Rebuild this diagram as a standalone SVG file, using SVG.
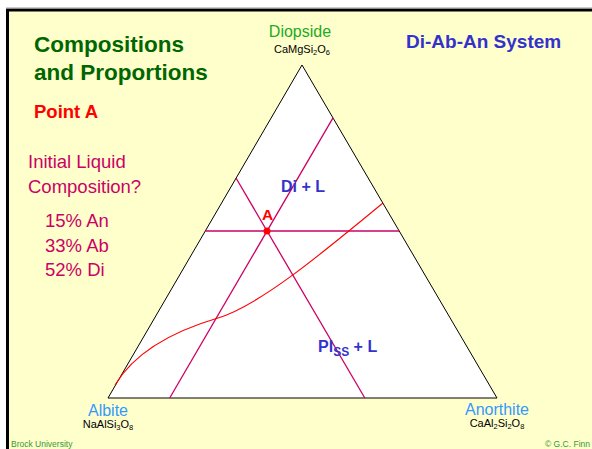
<svg xmlns="http://www.w3.org/2000/svg" width="592" height="449" viewBox="0 0 592 449">
<style>
.sans{font-family:"Liberation Sans",Arial,sans-serif}
.b{font-weight:bold}
.title{font-size:22.5px;fill:#006600;font-weight:bold}
.q{font-size:18.5px;fill:#CC0066}
.vx{font-size:16px}
.f{font-size:11px;fill:#000}
.reg{font-size:16px;fill:#3333CC;font-weight:bold}
.pink{stroke:#CC0066;stroke-width:1.3;fill:none}
.foot{font-size:8.5px;fill:#339933}
</style>
<rect x="0" y="0" width="592" height="449" fill="#FFFFFF"/>
<rect x="7.5" y="10" width="600" height="460" fill="#FFFFCC" stroke="#000" stroke-width="3"/>
<line x1="6" y1="8" x2="592" y2="8" stroke="#999" stroke-width="1"/>

<g class="sans">
<text class="title" x="34" y="52">Compositions</text>
<text class="title" x="34" y="80">and Proportions</text>
<text x="34" y="118" font-size="18.5px" fill="#FF0000" class="b">Point A</text>
<text class="b" x="406" y="48" font-size="19px" fill="#3333CC">Di-Ab-An System</text>
<text class="q" x="28" y="168">Initial Liquid</text>
<text class="q" x="28" y="193">Composition?</text>
<text class="q" x="45" y="227">15% An</text>
<text class="q" x="45" y="252">33% Ab</text>
<text class="q" x="45" y="276">52% Di</text>
<text class="foot" x="11" y="447">Brock University</text>
<text class="foot" x="545" y="447">© G.C. Finn</text>
</g>

<g id="triangle">
<polygon points="302,65 108,398 497,398" fill="#FFFFFF" stroke="#000" stroke-width="1"/>
</g>

<g id="connectors">
<line class="pink" x1="205.3" y1="231" x2="399.2" y2="231" stroke-width="2"/>
<line class="pink" x1="236" y1="178" x2="364.8" y2="398"/>
<line class="pink" x1="333" y1="117.8" x2="169.7" y2="398"/>
<path d="M115,385 C130,360 160,335 218,318 C260,305 320,255 383,203" fill="none" stroke="#FF0000" stroke-width="1.1"/>
</g>

<g id="diopside" class="sans">
<text class="vx" x="300" y="37" text-anchor="middle" fill="#22AA22">Diopside</text>
<text class="f" x="302" y="53" text-anchor="middle">CaMgSi<tspan font-size="7.5px" dy="2">2</tspan><tspan dy="-2">O</tspan><tspan font-size="7.5px" dy="2">6</tspan></text>
</g>
<g id="albite" class="sans">
<text class="vx" x="108" y="416" text-anchor="middle" fill="#3399FF">Albite</text>
<text class="f" x="108" y="428" text-anchor="middle">NaAlSi<tspan font-size="7.5px" dy="2">3</tspan><tspan dy="-2">O</tspan><tspan font-size="7.5px" dy="2">8</tspan></text>
</g>
<g id="anorthite" class="sans">
<text class="vx" x="497" y="415" text-anchor="middle" fill="#3399FF">Anorthite</text>
<text class="f" x="497" y="427" text-anchor="middle">CaAl<tspan font-size="7.5px" dy="2">2</tspan><tspan dy="-2">Si</tspan><tspan font-size="7.5px" dy="2">2</tspan><tspan dy="-2">O</tspan><tspan font-size="7.5px" dy="2">8</tspan></text>
</g>
<g id="di-l" class="sans">
<text class="reg" x="281" y="192">Di + L</text>
</g>
<g id="pl-l" class="sans">
<text class="reg" x="318" y="352">Pl<tspan font-size="12px" dy="4">SS</tspan><tspan dy="-4"> + L</tspan></text>
</g>
<g id="pointA" class="sans">
<circle cx="267" cy="231" r="3.5" fill="#FF0000"/>
<text x="267.5" y="220" text-anchor="middle" font-size="15.5px" font-weight="bold" fill="#FF0000">A</text>
</g>
</svg>
